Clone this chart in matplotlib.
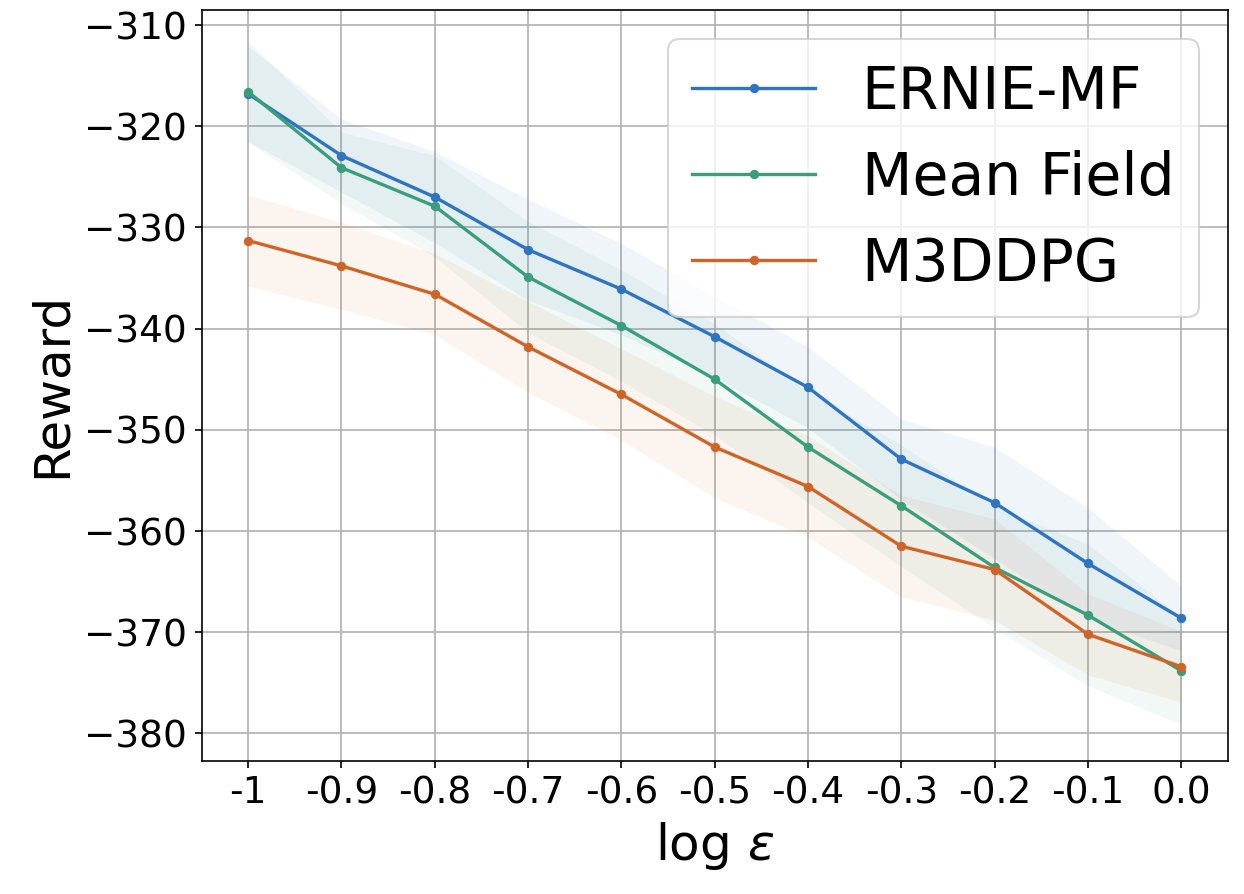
import numpy as np
import matplotlib
matplotlib.use("Agg")
import matplotlib.pyplot as plt

# log epsilon values on the x axis
log_eps = [-1.0, -0.9, -0.8, -0.7, -0.6, -0.5, -0.4, -0.3, -0.2, -0.1, 0.0]
tick_labels = ['-1', '-0.9', '-0.8', '-0.7', '-0.6', '-0.5', '-0.4', '-0.3', '-0.2', '-0.1', '0.0']

ernie_mean = [-316.8, -322.9, -327.0, -332.2, -336.1, -340.8, -345.8, -352.9, -357.2, -363.2, -368.6]
ernie_std = [4.7, 3.6, 4.5, 5.0, 4.5, 4.0, 4.0, 4.0, 5.5, 5.5, 3.2]

mf_mean = [-316.6, -324.1, -327.9, -334.9, -339.7, -345.0, -351.7, -357.5, -363.6, -368.3, -373.8]
mf_std = [5.0, 3.5, 5.0, 5.5, 5.5, 5.5, 5.5, 6.0, 6.0, 7.0, 5.3]

m3_mean = [-331.3, -333.8, -336.6, -341.8, -346.5, -351.7, -355.6, -361.5, -363.8, -370.2, -373.4]
m3_std = [4.5, 4.3, 4.0, 4.5, 4.5, 5.0, 5.0, 5.0, 5.0, 4.0, 3.5]

names = ['ERNIE-MF', 'Mean Field', 'M3DDPG']
colors = ['#2f74bf', '#3a9e7c', '#cf6426']

fig = plt.figure(figsize=(1244 / 150, 894 / 150), dpi=150)
ax = fig.add_subplot(111)
fig.subplots_adjust(left=0.162, right=0.987, bottom=0.149, top=0.989)

x = np.array(log_eps)
for name, mean, std, c in zip(names, [ernie_mean, mf_mean, m3_mean],
                              [ernie_std, mf_std, m3_std], colors):
    mean = np.array(mean)
    std = np.array(std)
    ax.plot(x, mean, marker='.', markersize=7, linewidth=1.6, color=c, label=name)
    ax.fill_between(x, mean - std, mean + std, color=c, alpha=0.07, linewidth=0)

ax.set_xticks(log_eps)
ax.set_xticklabels(tick_labels)
ax.set_xlim(-1.05, 0.05)
ax.set_ylim(-382.7, -308.5)
ax.tick_params(labelsize=18)
ax.grid(True)
ax.set_axisbelow(True)

ax.set_xlabel(r'log $\varepsilon$', fontsize=24)
ax.set_ylabel('Reward', fontsize=24)
ax.legend(loc='upper right', fontsize=28, handlelength=2.1, borderpad=0.42)

fig.savefig('out.png', dpi=150)
